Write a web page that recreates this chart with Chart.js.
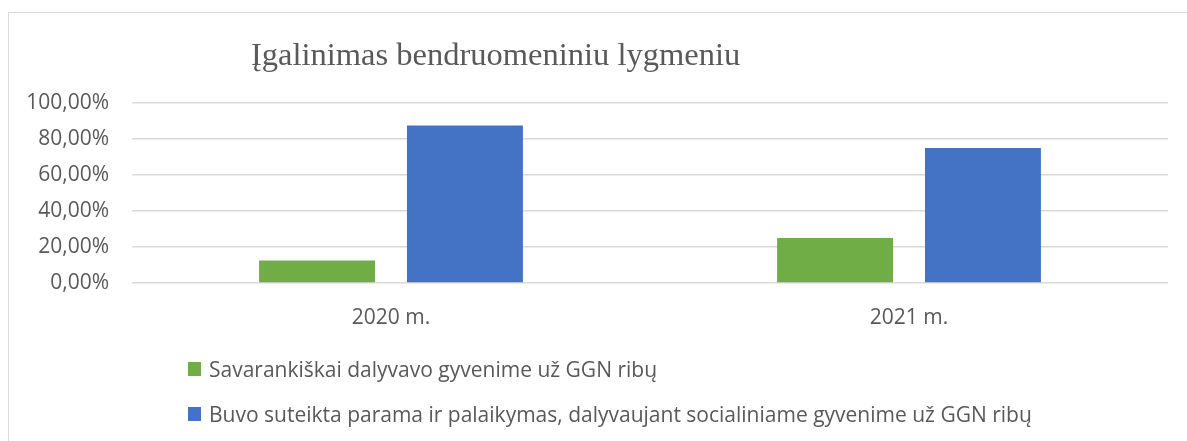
<!DOCTYPE html>
<html>
<head>
<meta charset="utf-8">
<script src="https://cdn.jsdelivr.net/npm/chart.js@4/dist/chart.umd.min.js"></script>
<style>
  html, body { margin: 0; padding: 0; background: #ffffff; }
  body { width: 1187px; height: 441px; position: relative; overflow: hidden; }
  #frame { position: absolute; left: 8px; top: 12px; width: 1200px; height: 460px; border: 1.5px solid #d9d9d9; box-sizing: border-box; }
  #c { position: absolute; left: 0; top: 0; }
  #title { position: absolute; left: 251px; top: 38px; font-family: "Liberation Serif", "DejaVu Serif", serif; font-size: 32.5px; line-height: 32px; color: #595959; white-space: nowrap; }
  .leg { position: absolute; left: 188px; height: 24px; display: flex; align-items: center; font-family: "Open Sans", sans-serif; font-size: 21px; color: #595959; white-space: nowrap; }
  .sw { width: 13px; height: 14px; margin-right: 8px; display: inline-block; }
</style>
</head>
<body>
<div id="frame"></div>
<canvas id="c" width="1187" height="441"></canvas>
<div id="title"></div>
<div id="legend"></div>
<script>
const chartTitle = "Įgalinimas bendruomeniniu lygmeniu";
const categories = ["2020 m.", "2021 m."];
const seriesNames = [
  "Savarankiškai dalyvavo gyvenime už GGN ribų",
  "Buvo suteikta parama ir palaikymas, dalyvaujant socialiniame gyvenime už GGN ribų"
];
const seriesA = [12.5, 25];
const seriesB = [87.5, 75];
const seriesColors = ["#70ad47", "#4472c4"];

document.getElementById('title').textContent = chartTitle;

const legendTops = [357, 402];
const legendEl = document.getElementById('legend');
seriesNames.forEach((name, i) => {
  const d = document.createElement('div');
  d.className = 'leg';
  d.style.top = legendTops[i] + 'px';
  const s = document.createElement('span');
  s.className = 'sw';
  s.style.background = seriesColors[i];
  const t = document.createElement('span');
  t.textContent = name;
  d.appendChild(s); d.appendChild(t);
  legendEl.appendChild(d);
});

const tickFont = { family: "Open Sans", size: 21 };

new Chart(document.getElementById('c'), {
  type: 'bar',
  data: {
    labels: categories,
    datasets: [
      { label: seriesNames[0], data: seriesA, backgroundColor: seriesColors[0] },
      { label: seriesNames[1], data: seriesB, backgroundColor: seriesColors[1] }
    ]
  },
  options: {
    responsive: false,
    animation: false,
    devicePixelRatio: 1,
    categoryPercentage: 0.571,
    barPercentage: 0.784,
    layout: { padding: { left: 0, right: 19, top: 103, bottom: 98 } },
    plugins: {
      legend: { display: false },
      title: { display: false },
      tooltip: { enabled: false }
    },
    scales: {
      x: {
        grid: { display: false, drawTicks: false },
        border: { display: false },
        ticks: { color: '#595959', font: tickFont, padding: 22 },
        afterFit: (s) => { s.height = 60; }
      },
      y: {
        min: 0,
        max: 100,
        grid: { color: '#d9d9d9', lineWidth: 1.5, drawTicks: false },
        border: { display: false },
        ticks: {
          stepSize: 20,
          color: '#595959',
          font: tickFont,
          padding: 23,
          callback: (v) => v.toFixed(2).replace('.', ',') + '%'
        },
        afterFit: (s) => { s.width = 132; }
      }
    }
  }
});
</script>
</body>
</html>
